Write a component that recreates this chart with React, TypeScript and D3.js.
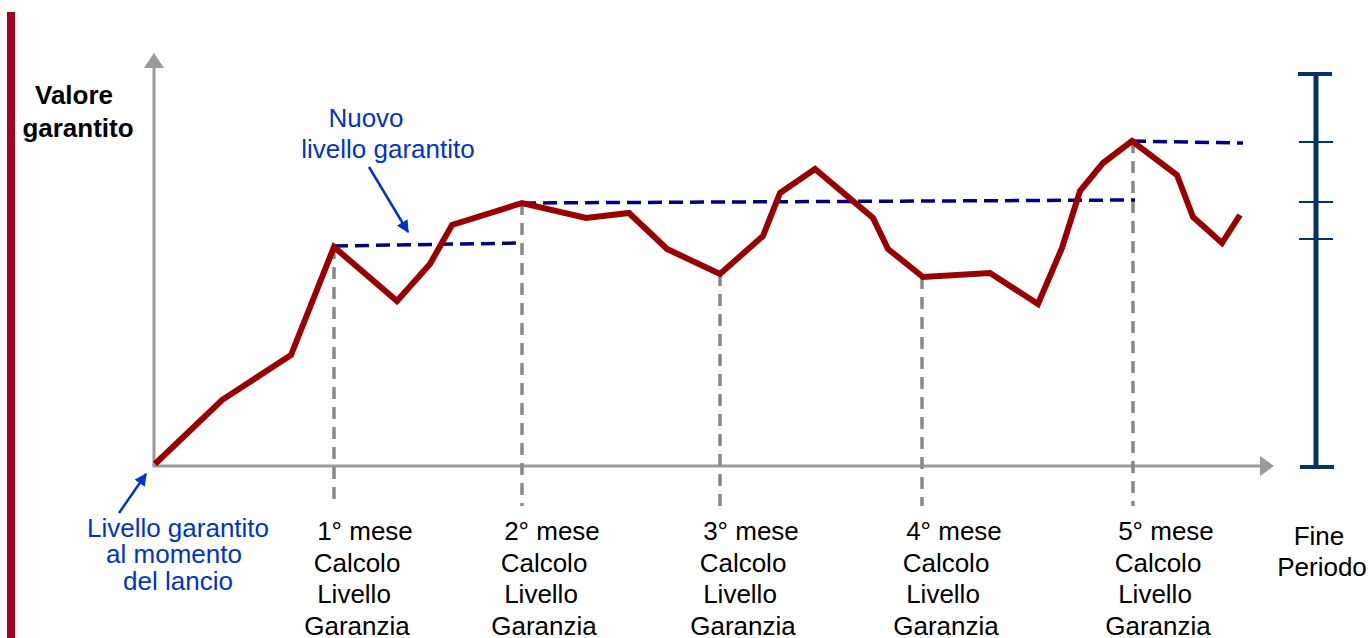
import React from "react";
import * as d3 from "d3";

// Value path (t = time units from launch, v = value units above launch level)
const pathT = [1, 68, 137, 180, 243, 276, 298, 368, 432, 475, 513, 566, 609, 626, 661, 719, 734, 769, 836, 884, 908, 926, 949, 978, 1023, 1039, 1068, 1086];
const pathV = [2, 66, 111, 219, 165, 202, 241, 263, 248, 253, 217, 192, 230, 273, 297, 248, 217, 189, 193, 162, 218, 275, 303, 325, 291, 249, 223, 251];

// Guaranteed level segments
const levelT0 = [180, 368, 978];
const levelT1 = [368, 981, 1089];
const levelV0 = [220, 263, 325];
const levelV1 = [223, 266, 323];

// Monthly calculation points
const monthT = [180, 368, 566, 768, 979];
const monthV = [219, 263, 192, 189, 325];
const monthLabels = ["1° mese", "2° mese", "3° mese", "4° mese", "5° mese"];
const monthLines = ["Calcolo", "Livello", "Garanzia"];

// Right range bar ticks
const barTop = 392;
const barTicks = [324, 264, 227];

const W = 1371;
const H = 638;
const FONT = "Arial, 'Liberation Sans', sans-serif";

export default function App() {
  const x = d3.scaleLinear().domain([0, 1120]).range([154, 1274]);
  const y = d3.scaleLinear().domain([0, 413]).range([466, 53]);

  const line = d3
    .line<number>()
    .x((_, i) => x(pathT[i]))
    .y((d) => y(d));

  const axisColor = "#9a9a9a";
  const red = "#990000";
  const navy = "#000080";
  const blue = "#0033CC";
  const barColor = "#003366";

  const labelCx = [357, 544, 743, 946, 1158];
  const lineDx = [8, 0, -3, 0];
  const baselines = [540, 572, 603, 635];
  const barX = 1316;
  const fs = 26;

  return (
    <svg
      width={W}
      height={H}
      style={{ position: "absolute", left: 0, top: 0, display: "block", background: "#fff" }}
      fontFamily={FONT}
    >
      <defs>
        <marker id="blueArrow" viewBox="0 0 10 10" refX="9" refY="5" markerWidth="5" markerHeight="5" orient="auto-start-reverse" markerUnits="strokeWidth">
          <path d="M0,0 L10,5 L0,10 z" fill={blue} />
        </marker>
      </defs>

      {/* left accent bar */}
      <rect x={7} y={12} width={8} height={H - 12} fill="#A50021" />

      {/* axes */}
      <line x1={x(0)} y1={y(0)} x2={x(0)} y2={y(398)} stroke={axisColor} strokeWidth={3} />
      <path d={`M${x(0) - 10},${y(398)} L${x(0)},${y(413)} L${x(0) + 10},${y(398)} Z`} fill={axisColor} />
      <line x1={x(0) - 1.5} y1={y(0)} x2={x(1106)} y2={y(0)} stroke={axisColor} strokeWidth={3} />
      <path d={`M${x(1106)},${y(0) - 10} L${x(1120)},${y(0)} L${x(1106)},${y(0) + 10} Z`} fill={axisColor} />

      {/* gray vertical dashed lines */}
      {monthT.map((t, i) => (
        <line
          key={"v" + i}
          x1={x(t)}
          x2={x(t)}
          y1={y(monthV[i])}
          y2={y(-40)}
          stroke="#888"
          strokeWidth={3.5}
          strokeDasharray="12 8"
        />
      ))}

      {/* guaranteed level dashed lines */}
      {levelT0.map((t, i) => (
        <line
          key={"l" + i}
          x1={x(t)}
          x2={x(levelT1[i])}
          y1={y(levelV0[i])}
          y2={y(levelV1[i])}
          stroke={navy}
          strokeWidth={3.5}
          strokeDasharray="14 7"
        />
      ))}

      {/* value path */}
      <path d={line(pathV) || ""} fill="none" stroke={red} strokeWidth={6} strokeLinejoin="miter" />

      {/* right range bar */}
      <line x1={barX} x2={barX} y1={y(barTop)} y2={y(-1)} stroke={barColor} strokeWidth={5} />
      <line x1={1298} x2={1332} y1={y(barTop)} y2={y(barTop)} stroke={barColor} strokeWidth={4} />
      <line x1={1300} x2={1334} y1={y(-1)} y2={y(-1)} stroke={barColor} strokeWidth={4} />
      {barTicks.map((v, i) => (
        <line key={"bt" + i} x1={1299} x2={1333} y1={y(v)} y2={y(v)} stroke={barColor} strokeWidth={2} />
      ))}

      {/* Y title */}
      <text x={74} y={104} textAnchor="middle" fontSize={fs} fontWeight="bold" fill="#000">Valore</text>
      <text x={78} y={137} textAnchor="middle" fontSize={fs} fontWeight="bold" fill="#000">garantito</text>

      {/* Nuovo livello garantito annotation */}
      <text x={366} y={127} textAnchor="middle" fontSize={fs} fill={blue}>Nuovo</text>
      <text x={388} y={158} textAnchor="middle" fontSize={fs} fill={blue}>livello garantito</text>
      <line x1={369} y1={167} x2={408} y2={232} stroke={blue} strokeWidth={2.5} markerEnd="url(#blueArrow)" />

      {/* launch level annotation */}
      <line x1={119} y1={513} x2={146} y2={474} stroke={blue} strokeWidth={2.5} markerEnd="url(#blueArrow)" />
      <text x={178} y={537} textAnchor="middle" fontSize={fs} fill={blue}>Livello garantito</text>
      <text x={174} y={563} textAnchor="middle" fontSize={fs} fill={blue}>al momento</text>
      <text x={178} y={590} textAnchor="middle" fontSize={fs} fill={blue}>del lancio</text>

      {/* month labels */}
      {monthLabels.map((m, i) => (
        <g key={"m" + i}>
          {[m, ...monthLines].map((s, j) => (
            <text
              key={j}
              x={labelCx[i] + lineDx[j]}
              y={baselines[j]}
              textAnchor="middle"
              fontSize={fs}
              fill="#000"
            >
              {s}
            </text>
          ))}
        </g>
      ))}

      {/* end of period */}
      <text x={1319} y={545} textAnchor="middle" fontSize={fs} fill="#000">Fine</text>
      <text x={1322} y={576} textAnchor="middle" fontSize={fs} fill="#000">Periodo</text>
    </svg>
  );
}
